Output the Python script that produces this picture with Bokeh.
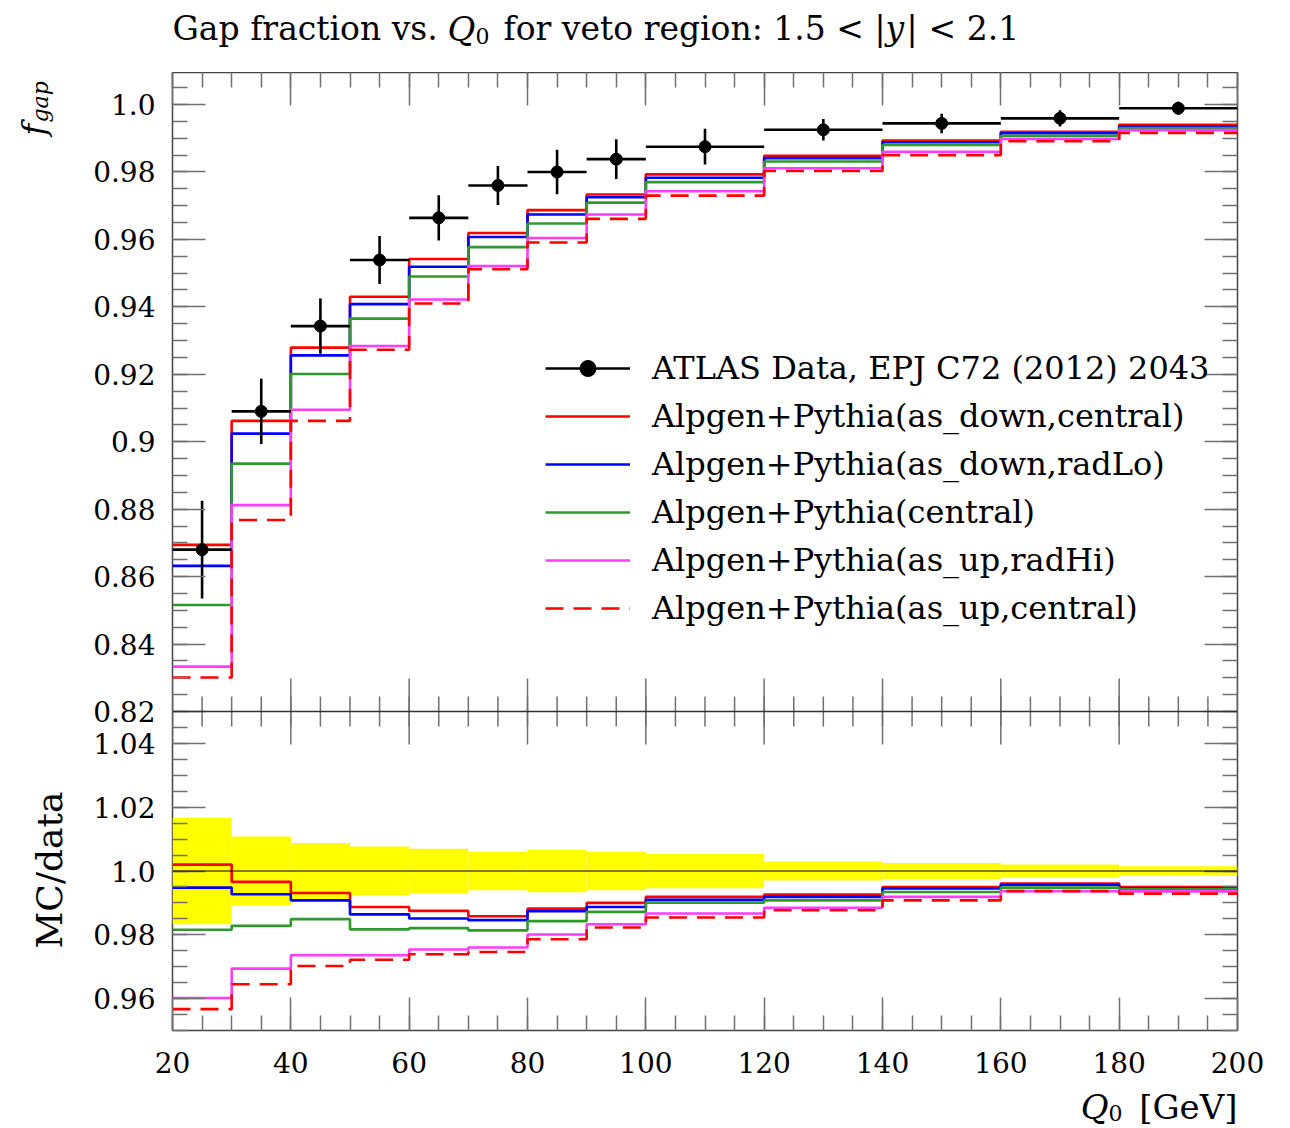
from bokeh.plotting import figure
from bokeh.layouts import column, row
from bokeh.models import (FixedTicker, LinearAxis, Range1d, Legend, LegendItem,
                          Label, Span, CustomLabelingPolicy)
from bokeh.embed import file_html
from bokeh.resources import INLINE

# ---------------- data ----------------
edges = [20, 30, 40, 50, 60, 70, 80, 90, 100, 120, 140, 160, 180, 200]
data_x = [25, 35, 45, 55, 65, 75, 85, 95, 110, 130, 150, 170, 190]
data_y = [0.868, 0.909, 0.9343, 0.9539, 0.9664, 0.976, 0.980, 0.9838, 0.9875,
          0.9925, 0.9944, 0.9959, 0.9989]
data_err = [0.0145, 0.0097, 0.0082, 0.0071, 0.0067, 0.0058, 0.0066, 0.0059,
            0.0053, 0.0032, 0.0029, 0.0024, 0.0019]

mc_as_down_central = [0.8694, 0.9062, 0.9279, 0.9430, 0.9542, 0.9619, 0.9687,
                      0.9733, 0.9793, 0.9848, 0.9893, 0.9919, 0.9940]
mc_as_down_radlo = [0.8632, 0.9024, 0.9256, 0.9408, 0.9519, 0.9607, 0.9674,
                    0.9725, 0.9783, 0.9841, 0.9888, 0.9915, 0.9935]
mc_central = [0.8516, 0.8935, 0.9201, 0.9365, 0.9490, 0.9577, 0.9647,
              0.9709, 0.9770, 0.9831, 0.9880, 0.9907, 0.9930]
mc_as_up_radhi = [0.8333, 0.8812, 0.9095, 0.9284, 0.9422, 0.9521, 0.9604,
                  0.9674, 0.9743, 0.9811, 0.9860, 0.9898, 0.9924]
mc_as_up_central = [0.8301, 0.8768, 0.9062, 0.9273, 0.9410, 0.9512, 0.9591,
                    0.9661, 0.9730, 0.9803, 0.9850, 0.9891, 0.9916]

ratio_band = [0.0167, 0.0108, 0.0088, 0.0077, 0.0070, 0.0060, 0.0067, 0.0060,
              0.0054, 0.0030, 0.0025, 0.0020, 0.0015]
r_as_down_central = [1.0020, 0.9966, 0.9931, 0.9887, 0.9875, 0.9858, 0.9882,
                     0.9900, 0.9919, 0.9926, 0.9950, 0.9961, 0.9950]
r_as_down_radlo = [0.9948, 0.9927, 0.9908, 0.9864, 0.9851, 0.9846, 0.9874,
                   0.9887, 0.9910, 0.9919, 0.9945, 0.9957, 0.9945]
r_central = [0.9816, 0.9828, 0.9849, 0.9817, 0.9821, 0.9814, 0.9843,
             0.9872, 0.9901, 0.9908, 0.9934, 0.9948, 0.9943]
r_as_up_radhi = [0.9602, 0.9694, 0.9736, 0.9736, 0.9754, 0.9760, 0.9801,
                 0.9833, 0.9867, 0.9885, 0.9919, 0.9937, 0.9936]
r_as_up_central = [0.9567, 0.9645, 0.9702, 0.9722, 0.9739, 0.9746, 0.9786,
                   0.9823, 0.9854, 0.9877, 0.9908, 0.9937, 0.9929]

labels = ["Alpgen+Pythia(as_down,central)", "Alpgen+Pythia(as_down,radLo)",
          "Alpgen+Pythia(central)", "Alpgen+Pythia(as_up,radHi)",
          "Alpgen+Pythia(as_up,central)"]
data_label = "ATLAS Data, EPJ C72 (2012) 2043"

x_ticks = [20, 40, 60, 80, 100, 120, 140, 160, 180, 200]
x_tick_labels = ["20", "40", "60", "80", "100", "120", "140", "160", "180", "200"]
x_minor = list(range(20, 201, 5))
top_ticks = [0.82, 0.84, 0.86, 0.88, 0.90, 0.92, 0.94, 0.96, 0.98, 1.0]
top_tick_labels = ["0.82", "0.84", "0.86", "0.88", "0.9", "0.92", "0.94",
                   "0.96", "0.98", "1.0"]
top_minor = [round(0.82 + 0.005 * i, 3) for i in range(0, 39)]
rat_ticks = [0.96, 0.98, 1.0, 1.02, 1.04]
rat_tick_labels = ["0.96", "0.98", "1.0", "1.02", "1.04"]
rat_minor = [round(0.95 + 0.005 * i, 3) for i in range(0, 20)]

# ---------------- geometry / style ----------------
FONT = "DejaVu Serif"
RED, BLUE, GREEN, MAG = "#ff0000", "#0000ff", "#2e9a2e", "#ff3cff"
series_styles = [(RED, "solid"), (BLUE, "solid"), (GREEN, "solid"),
                 (MAG, "solid"), (RED, "18 10")]
TICK_COL = "#707070"
LW = 2.6

H_TOP, H_RAT = 639, 319          # panel heights in px
TOP_LO, TOP_HI = 0.82, 1.0095
RAT_LO, RAT_HI = 0.95, 1.05
s_top = H_TOP / (TOP_HI - TOP_LO)  # px per unit
s_rat = H_RAT / (RAT_HI - RAT_LO)
P_LO = TOP_LO - H_RAT / s_top      # primary range extended over ratio panel
R_HI = RAT_HI + H_TOP / s_rat      # ratio range extended over top panel
BOTTOM_BORDER = 56
TITLE_H = 72


def rat_to_primary(r):
    return P_LO + (r - RAT_LO) * s_rat / s_top


def hide_policy():
    return CustomLabelingPolicy(code="for (const i of indices) indices.unset(i)")


# ---------------- main figure ----------------
p = figure(frame_width=1065, frame_height=H_TOP + H_RAT,
           x_range=Range1d(20, 200), y_range=Range1d(P_LO, TOP_HI),
           output_backend="svg", toolbar_location=None,
           x_axis_location=None, y_axis_location=None,
           min_border_left=92, min_border_right=53,
           min_border_top=0, min_border_bottom=BOTTOM_BORDER)
p.extra_y_ranges = {"ratio": Range1d(RAT_LO, R_HI)}
p.xgrid.visible = False
p.ygrid.visible = False
p.outline_line_color = "#444444"
p.outline_line_width = 1.5
p.background_fill_color = "white"
p.border_fill_color = "white"

common = dict(major_tick_in=33, major_tick_out=0, minor_tick_in=15,
              minor_tick_out=0, axis_line_color=None,
              major_tick_line_color=TICK_COL, minor_tick_line_color=TICK_COL,
              major_tick_line_width=1.5, minor_tick_line_width=1.5)

y_major = top_ticks + [rat_to_primary(r) for r in rat_ticks]
y_labels = top_tick_labels + rat_tick_labels
y_minor = top_minor + [rat_to_primary(r) for r in rat_minor]

left = LinearAxis(ticker=FixedTicker(ticks=y_major, minor_ticks=y_minor),
                  major_label_overrides={t: s for t, s in zip(y_major, y_labels)},
                  major_label_text_font=FONT, major_label_text_font_size="28px",
                  major_label_text_color="black", major_label_standoff=17,
                  **common)
p.add_layout(left, "left")
right = LinearAxis(ticker=FixedTicker(ticks=y_major, minor_ticks=y_minor),
                   major_label_text_font_size="0px", major_label_standoff=0,
                   major_label_policy=hide_policy(), **common)
p.add_layout(right, "right")
top_ax = LinearAxis(ticker=FixedTicker(ticks=x_ticks, minor_ticks=x_minor),
                    major_label_text_font_size="0px", major_label_standoff=0,
                    major_label_policy=hide_policy(), **common)
p.add_layout(top_ax, "above")
bottom = LinearAxis(ticker=FixedTicker(ticks=x_ticks, minor_ticks=x_minor),
                    major_label_overrides={t: s for t, s in zip(x_ticks, x_tick_labels)},
                    major_label_text_font=FONT, major_label_text_font_size="28px",
                    major_label_text_color="black", major_label_standoff=21,
                    **common)
p.add_layout(bottom, "below")

# ticks on the panel boundary (upwards into top panel, downwards into ratio panel)
p.segment(x0=x_ticks, x1=x_ticks, y0=[TOP_LO] * len(x_ticks),
          y1=[TOP_LO + 33 / s_top] * len(x_ticks), line_color=TICK_COL, line_width=1.5)
p.segment(x0=x_minor, x1=x_minor, y0=[TOP_LO] * len(x_minor),
          y1=[TOP_LO + 15 / s_top] * len(x_minor), line_color=TICK_COL, line_width=1.5)
p.segment(x0=x_ticks, x1=x_ticks, y0=[RAT_HI] * len(x_ticks),
          y1=[RAT_HI - 33 / s_rat] * len(x_ticks), line_color=TICK_COL,
          line_width=1.5, y_range_name="ratio")
p.segment(x0=x_minor, x1=x_minor, y0=[RAT_HI] * len(x_minor),
          y1=[RAT_HI - 15 / s_rat] * len(x_minor), line_color=TICK_COL,
          line_width=1.5, y_range_name="ratio")

# ---- top panel ----
mc_top = [mc_as_down_central, mc_as_down_radlo, mc_central, mc_as_up_radhi,
          mc_as_up_central]
mc_renderers = []
for vals, (col, dash) in zip(mc_top, series_styles):
    r = p.step(x=edges, y=vals + [vals[-1]], mode="after", line_color=col,
               line_width=LW, line_dash=dash)
    mc_renderers.append(r)

lo = [y - e for y, e in zip(data_y, data_err)]
hi = [y + e for y, e in zip(data_y, data_err)]
hbar = p.segment(x0=edges[:-1], x1=edges[1:], y0=data_y, y1=data_y,
                 line_color="black", line_width=2.6)
p.segment(x0=data_x, x1=data_x, y0=lo, y1=hi, line_color="black", line_width=2.6)
dots = p.scatter(x=data_x, y=data_y, size=12, marker="circle",
                 fill_color="black", line_color="black")

# ---- ratio panel ----
p.quad(left=edges[:-1], right=edges[1:],
       bottom=[1 - b for b in ratio_band], top=[1 + b for b in ratio_band],
       fill_color="#ffff00", line_color=None, y_range_name="ratio")
p.add_layout(Span(location=1.0, dimension="width", line_color="black",
                  line_width=1, y_range_name="ratio"))
mc_rat = [r_as_down_central, r_as_down_radlo, r_central, r_as_up_radhi,
          r_as_up_central]
for vals, (col, dash) in zip(mc_rat, series_styles):
    p.step(x=edges, y=vals + [vals[-1]], mode="after", line_color=col,
           line_width=LW, line_dash=dash, y_range_name="ratio")

# panel divider
p.add_layout(Span(location=TOP_LO, dimension="width", line_color="#333333",
                  line_width=1.5))

# legend
items = [LegendItem(label=data_label, renderers=[hbar, dots])]
for lab, r in zip(labels, mc_renderers):
    items.append(LegendItem(label=lab, renderers=[r]))
legend = Legend(items=items, location=(373, 402), padding=0, margin=0,
                spacing=8, glyph_width=85, glyph_height=40, label_height=40,
                label_standoff=22, label_text_font=FONT,
                label_text_font_size="32px", label_text_color="black",
                border_line_color=None, background_fill_alpha=0)
p.add_layout(legend)


# ---------------- text strips ----------------
def strip(w, h, frame_h=None, border_bottom=0):
    fh = h if frame_h is None else frame_h
    f = figure(width=w, height=h, x_range=Range1d(0, w), y_range=Range1d(fh, 0),
               output_backend="svg", toolbar_location=None, min_border=0,
               min_border_bottom=border_bottom,
               x_axis_location=None, y_axis_location=None)
    f.xgrid.visible = False
    f.ygrid.visible = False
    f.outline_line_color = None
    f.background_fill_color = "white"
    f.border_fill_color = "white"
    return f


def txt(f, x, y, s, size, style="normal", align="left", baseline="alphabetic",
        angle=0):
    f.add_layout(Label(x=x, y=y, text=s, text_font=FONT, text_font_size=size,
                       text_font_style=style, text_align=align,
                       text_baseline=baseline, text_color="black",
                       angle=angle, angle_units="deg"))


TB = 28  # title baseline anchor in the title strip
title = strip(1290, TITLE_H)
txt(title, 172, TB, "Gap fraction vs.", "33px")
txt(title, 447, TB, "Q", "34px", "italic")
txt(title, 475, TB + 7, "0", "22px")
txt(title, 503, TB, "for veto region: 1.5 <", "33px")
txt(title, 874, TB, "|", "33px")
txt(title, 885, TB, "y", "33px", "italic")
txt(title, 906, TB, "|", "33px")
txt(title, 928, TB, "< 2.1", "33px")

MAIN_H = H_TOP + H_RAT + BOTTOM_BORDER
# left strip: its frame is aligned with the main frame (canvas y 72 .. 1030)
leftstrip = strip(80, MAIN_H, frame_h=H_TOP + H_RAT, border_bottom=BOTTOM_BORDER)
txt(leftstrip, 33, 135 - TITLE_H, "f", "32px", "italic", "left", "middle", 90)
txt(leftstrip, 40, 122 - TITLE_H, "gap", "22px", "italic", "left", "middle", 90)
txt(leftstrip, 49, 948 - TITLE_H, "MC/data", "36px", "normal", "left", "middle", 90)

BOT_TOP = TITLE_H + MAIN_H
BOT_H = 1128 - BOT_TOP
bot = strip(1290, BOT_H)
XB = 1118 - 12 - BOT_TOP  # x-label baseline anchor in bottom strip
txt(bot, 1237, XB, "[GeV]", "34px", "normal", "right")
txt(bot, 1122, XB + 6, "0", "22px", "normal", "right")
txt(bot, 1108, XB, "Q", "34px", "italic", "right")

layout = column(title, row(leftstrip, p, spacing=0), bot, spacing=0)
open("out.html", "w").write(file_html(layout, INLINE))
